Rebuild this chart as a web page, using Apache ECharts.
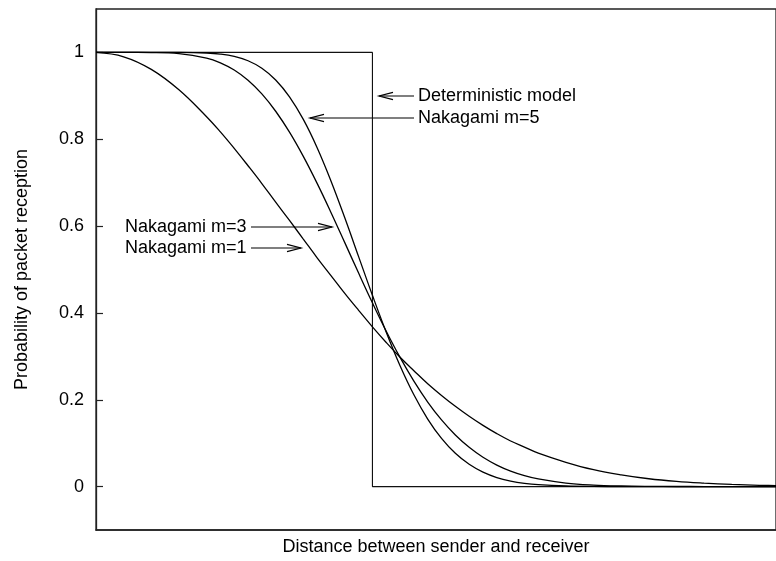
<!DOCTYPE html>
<html>
<head>
<meta charset="utf-8">
<script src="https://cdn.jsdelivr.net/npm/echarts@6/dist/echarts.min.js"></script>
<style>
html,body{margin:0;padding:0;background:#fff;}
#chart{width:776px;height:561px;}
</style>
</head>
<body>
<div id="chart"></div>
<script>
// Distance (relative to nominal range) where curves were read
var distance = [0,0.1,0.2,0.3,0.4,0.45,0.5,0.55,0.6,0.65,0.7,0.75,0.8,0.85,0.9,0.95,1.0,1.05,1.1,1.15,1.2,1.25,1.3,1.35,1.4,1.45,1.5,1.55,1.6,1.7,1.8,1.9,2.0,2.1,2.2,2.3,2.4,2.5];
var nakagamiM1 = [1,0.990,0.961,0.914,0.852,0.817,0.779,0.739,0.698,0.655,0.613,0.570,0.527,0.486,0.445,0.406,0.368,0.332,0.298,0.267,0.237,0.210,0.185,0.162,0.141,0.122,0.105,0.091,0.077,0.056,0.039,0.027,0.018,0.012,0.008,0.005,0.003,0.002];
var nakagamiM3 = [1,1.000,0.9997,0.9973,0.9871,0.9761,0.9595,0.9359,0.9044,0.8645,0.8163,0.7605,0.6983,0.6315,0.5619,0.4917,0.4232,0.3579,0.2975,0.2429,0.1948,0.1536,0.1189,0.0904,0.0675,0.0496,0.0357,0.0253,0.0176,0.0081,0.0035,0.0014,0.0005,0.0002,0.0001,0,0,0];
var nakagamiM5 = [1,1,1,0.9999,0.9986,0.9962,0.9909,0.9808,0.9636,0.9366,0.8978,0.8457,0.7806,0.7040,0.6191,0.5297,0.4405,0.3556,0.2784,0.2114,0.1555,0.1109,0.0766,0.0513,0.0333,0.0209,0.0128,0.0075,0.0043,0.0013,0.0003,0.0001,0,0,0,0,0,0];
var deterministicX = [0,1,1,2.5];
var deterministicY = [1,1,0,0];
var yTicks = [0,0.2,0.4,0.6,0.8,1];
var yTickLabels = ['0','0.2','0.4','0.6','0.8','1'];

function pairs(xs, ys){ return xs.map(function(x,i){ return [x, ys[i]]; }); }

var FONT = '"Liberation Sans", Arial, Helvetica, sans-serif';
var chart = echarts.init(document.getElementById('chart'), null, {renderer:'canvas'});

function curve(name, data, w, color, smooth){
  return {
    name: name, type: 'line', data: data, showSymbol: false, symbol: 'none',
    smooth: smooth, clip: true, silent: true,
    lineStyle: {color: color || '#000', width: w || 1.3},
    animation: false
  };
}

function arrowLeft(x1, x2, y){
  return [
    {type:'line', shape:{x1:x1,y1:y,x2:x2,y2:y}, style:{stroke:'#000',lineWidth:1.2}},
    {type:'polyline', shape:{points:[[x2+14,y-3.6],[x2,y],[x2+14,y+3.6]]}, style:{stroke:'#000',lineWidth:1.2,fill:null}}
  ];
}
function arrowRight(x1, x2, y){
  return [
    {type:'line', shape:{x1:x1,y1:y,x2:x2,y2:y}, style:{stroke:'#000',lineWidth:1.2}},
    {type:'polyline', shape:{points:[[x2-14,y-3.6],[x2,y],[x2-14,y+3.6]]}, style:{stroke:'#000',lineWidth:1.2,fill:null}}
  ];
}
function label(text, x, y){
  return {type:'text', x:x, y:y, style:{text:text, font:'18px '+FONT, fill:'#000', verticalAlign:'middle', align:'left'}};
}

var graphics = [].concat(
  label('Deterministic model', 418, 96),
  arrowLeft(414, 379, 96),
  label('Nakagami m=5', 418, 118),
  arrowLeft(414, 310, 118),
  label('Nakagami m=3', 125, 227),
  arrowRight(251, 332, 227),
  label('Nakagami m=1', 125, 248),
  arrowRight(251, 301, 248)
);

chart.setOption({
  backgroundColor: '#fff',
  animation: false,
  textStyle: {fontFamily: FONT},
  grid: {left: 96, top: 9, width: 681, height: 523, show: true, borderColor: '#222', borderWidth: 1.3, backgroundColor: 'transparent'},
  xAxis: {
    type: 'value', min: 0, max: 2.46,
    name: 'Distance between sender and receiver', nameLocation: 'middle', nameGap: 8,
    nameTextStyle: {fontSize: 18, color: '#000', fontFamily: FONT, verticalAlign: 'top'},
    axisLine: {show: true, onZero: false, lineStyle: {color: '#222', width: 1.5}},
    axisTick: {show: false}, axisLabel: {show: false}, splitLine: {show: false}
  },
  yAxis: {
    type: 'value', min: -0.1, max: 1.1,
    name: 'Probability of packet reception', nameLocation: 'middle', nameGap: 65, nameRotate: 90,
    nameTextStyle: {fontSize: 18, color: '#000', fontFamily: FONT},
    axisLine: {show: true, onZero: false, lineStyle: {color: '#222', width: 1.3}},
    axisTick: {show: true, inside: true, length: 7, customValues: yTicks, lineStyle: {color: '#222', width: 1.2}},
    axisLabel: {show: true, margin: 12, fontSize: 18, color: '#000', fontFamily: FONT, customValues: yTicks,
      formatter: function(v){ var i = yTicks.indexOf(v); return i >= 0 ? yTickLabels[i] : String(v); }},
    splitLine: {show: false}
  },
  series: [
    curve('Deterministic model', pairs(deterministicX, deterministicY), 1.1, '#111', false),
    curve('Nakagami m=1', pairs(distance, nakagamiM1), 1.3, '#000', 0.4),
    curve('Nakagami m=3', pairs(distance, nakagamiM3), 1.3, '#000', 0.4),
    curve('Nakagami m=5', pairs(distance, nakagamiM5), 1.3, '#000', 0.4)
  ],
  graphic: graphics
});
</script>
</body>
</html>
